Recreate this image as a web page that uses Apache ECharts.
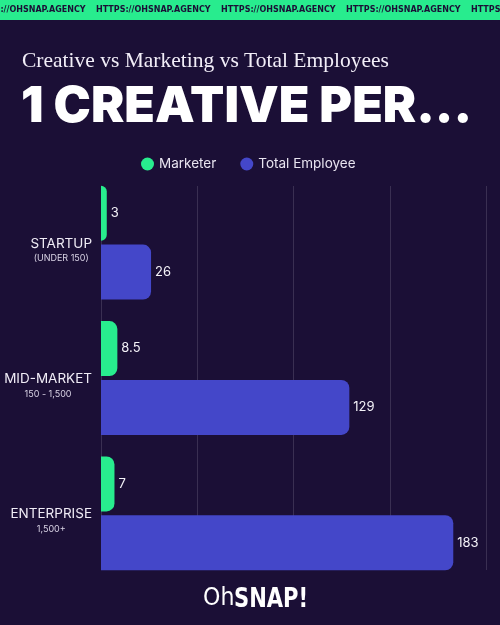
<!DOCTYPE html>
<html><head><meta charset="utf-8">
<script src="https://cdn.jsdelivr.net/npm/echarts@6/dist/echarts.min.js"></script>
<style>html,body{margin:0;padding:0;background:#1b0f36;}#c{width:500px;height:625px;}</style>
</head><body><div id="c"></div>
<script>
const categories = ['STARTUP', 'MID-MARKET', 'ENTERPRISE'];
const subLabels = ['(UNDER 150)', '150 - 1,500', '1,500+'];
const marketer = [3, 8.5, 7];
const totalEmployee = [26, 129, 183];
const xTicks = [0, 50, 100, 150, 200];
const bannerText = 'HTTPS://OHSNAP.AGENCY';

const BG = '#1b0f36', GREEN = '#28ec8e', BLUE = '#4447c9';
const chart = echarts.init(document.getElementById('c'));
const bannerItems = [-29, 96, 221, 346, 471].map(x => ({
  type:'text', left:x, top:6,
  style:{text:bannerText, font:'bold 8px "DejaVu Sans"', fill:'#1b0f36', letterSpacing:0.4}
}));
chart.setOption({
  backgroundColor: BG,
  animation: false,
  graphic: [
    {type:'rect', shape:{x:0,y:0,width:500,height:20}, style:{fill:GREEN}},
    ...bannerItems,
    {type:'text', left:22, top:50, style:{text:'Creative vs Marketing vs Total Employees', font:'21.5px "Liberation Serif"', fill:'#f2eef8'}},
    {type:'text', left:21, top:82, style:{text:'1 CREATIVE PER...', font:'900 50px Inter', fill:'#ffffff'}},
    {type:'text', x:203, y:587, scaleX:0.92, style:{text:'Oh', font:'24px "DejaVu Sans"', fill:'#ffffff'}},
    {type:'text', x:234, y:586, scaleX:0.78, style:{text:'SNAP!', font:'bold 27px "DejaVu Sans"', fill:'#ffffff'}}
  ],
  legend: {
    top: 157, left: 141, padding: 0, itemGap: 24, icon: 'circle', itemWidth: 13, itemHeight: 13,
    textStyle: {color: '#e8e4f0', fontSize: 13.5, fontFamily: 'Inter'},
    data: ['Marketer', 'Total Employee']
  },
  grid: [
    {left: 101, right: 14, top: 175, bottom: 44, containLabel: false},
    {left: 101, right: 14, top: 186, bottom: 55, containLabel: false}
  ],
  xAxis: [
    {gridIndex:0, type:'value', min:0, max:200, interval:50, show:false},
    {gridIndex:1, type:'value', min:xTicks[0], max:xTicks[xTicks.length-1], interval:50,
     axisLabel:{show:false}, axisLine:{show:false}, axisTick:{show:false},
     splitLine:{show:true, lineStyle:{color:'#3a2f52', width:1}}}
  ],
  yAxis: [
    {gridIndex:0, type:'category', inverse:true, data:categories,
     axisLine:{show:false}, axisTick:{show:false},
     axisLabel:{margin:9, align:'right', padding:[15,0,0,0],
       formatter:(v,i)=>'{m|'+v+'}\n{s|'+subLabels[i]+'}',
       rich:{m:{color:'#f0ecf6', fontSize:13.5, fontFamily:'Inter', lineHeight:17, align:'center'},
             s:{color:'#d8d2e4', fontSize:9, fontFamily:'Inter', lineHeight:13, align:'center'}}}},
    {gridIndex:1, type:'category', data:['a'], show:false}
  ],
  series: [
    {name:'Marketer', type:'bar', xAxisIndex:0, yAxisIndex:0, data:marketer, barWidth:55, barGap:'7%',
     itemStyle:{color:GREEN, borderRadius:[0,8,8,0]},
     label:{show:true, position:'right', distance:4, color:'#f4f2f8', fontSize:13, fontFamily:'Inter'}},
    {name:'Total Employee', type:'bar', xAxisIndex:0, yAxisIndex:0, data:totalEmployee, barWidth:55, barGap:'7%',
     itemStyle:{color:BLUE, borderRadius:[0,8,8,0]},
     label:{show:true, position:'right', distance:4, color:'#f4f2f8', fontSize:13, fontFamily:'Inter'}}
  ]
});
</script></body></html>
